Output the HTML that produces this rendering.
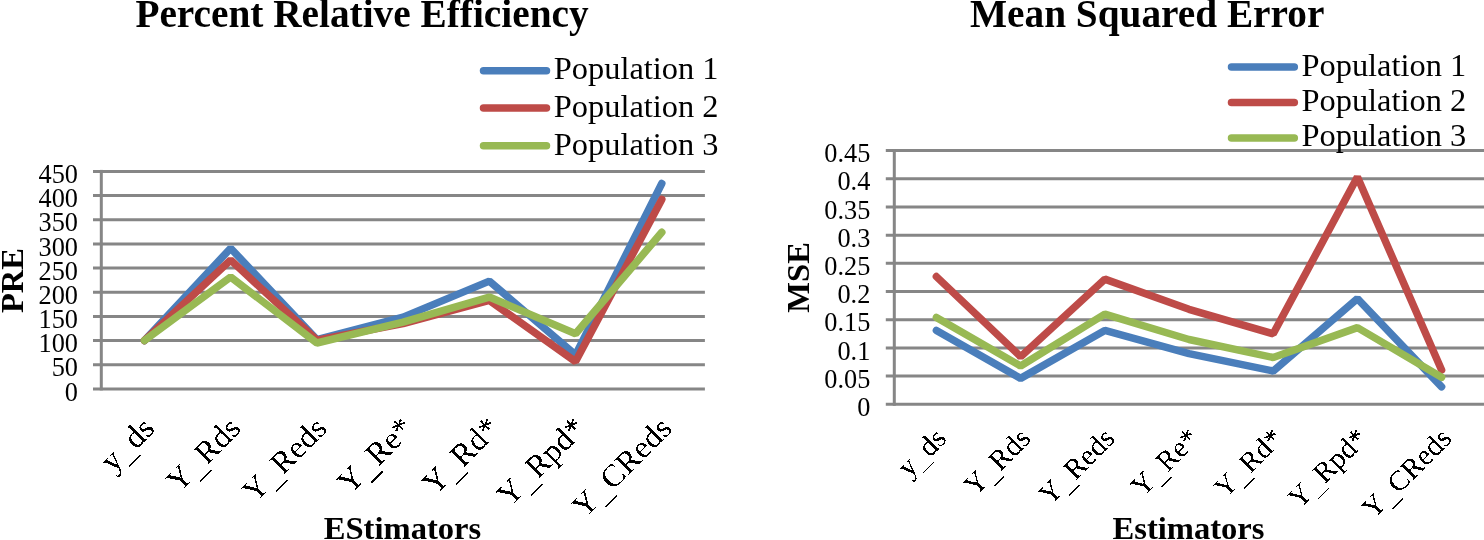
<!DOCTYPE html>
<html><head><meta charset="utf-8"><style>
html,body{margin:0;padding:0;background:#fff;width:1484px;height:540px;overflow:hidden}
svg{display:block;will-change:transform}
text{font-family:"Liberation Serif",serif;fill:#000}
.ti{font-size:39.3px;font-weight:bold}
.lg{font-size:32.4px}
.tk{font-size:26.3px}
.xl{font-size:32.4px}
.xr{font-size:29px}
.at{font-size:32.6px;font-weight:bold}
</style></head><body>
<svg width="1484" height="540" viewBox="0 0 1484 540">
<defs><filter id="bin" x="-10%" y="-10%" width="120%" height="120%"><feComponentTransfer><feFuncA type="discrete" tableValues="0 1"/></feComponentTransfer></filter></defs>
<text x="362" y="26.8" class="ti" text-anchor="middle">Percent Relative Efficiency</text>
<text x="1147.2" y="26.8" class="ti" text-anchor="middle">Mean Squared Error</text>
<line x1="93" y1="171.40" x2="704.9" y2="171.40" stroke="#868686" stroke-width="3"/>
<text x="78.0" y="183.10" class="tk" text-anchor="end">450</text>
<line x1="93" y1="195.57" x2="704.9" y2="195.57" stroke="#868686" stroke-width="3"/>
<text x="78.0" y="207.27" class="tk" text-anchor="end">400</text>
<line x1="93" y1="219.73" x2="704.9" y2="219.73" stroke="#868686" stroke-width="3"/>
<text x="78.0" y="231.43" class="tk" text-anchor="end">350</text>
<line x1="93" y1="243.90" x2="704.9" y2="243.90" stroke="#868686" stroke-width="3"/>
<text x="78.0" y="255.60" class="tk" text-anchor="end">300</text>
<line x1="93" y1="268.07" x2="704.9" y2="268.07" stroke="#868686" stroke-width="3"/>
<text x="78.0" y="279.77" class="tk" text-anchor="end">250</text>
<line x1="93" y1="292.23" x2="704.9" y2="292.23" stroke="#868686" stroke-width="3"/>
<text x="78.0" y="303.93" class="tk" text-anchor="end">200</text>
<line x1="93" y1="316.40" x2="704.9" y2="316.40" stroke="#868686" stroke-width="3"/>
<text x="78.0" y="328.10" class="tk" text-anchor="end">150</text>
<line x1="93" y1="340.57" x2="704.9" y2="340.57" stroke="#868686" stroke-width="3"/>
<text x="78.0" y="352.27" class="tk" text-anchor="end">100</text>
<line x1="93" y1="364.73" x2="704.9" y2="364.73" stroke="#868686" stroke-width="3"/>
<text x="78.0" y="376.43" class="tk" text-anchor="end">50</text>
<line x1="93" y1="388.90" x2="704.9" y2="388.90" stroke="#868686" stroke-width="3"/>
<text x="78.0" y="400.60" class="tk" text-anchor="end">0</text>
<line x1="101.3" y1="169.90" x2="101.3" y2="390.40" stroke="#868686" stroke-width="3"/>
<polyline points="144.41,340.57 230.64,248.25 316.87,339.60 403.10,317.12 489.33,281.12 575.56,354.82 661.79,183.48" fill="none" stroke="#4a7ebb" stroke-width="7.5" stroke-linejoin="bevel" stroke-linecap="round"/>
<polyline points="144.41,340.57 230.64,260.09 316.87,340.08 403.10,323.65 489.33,300.45 575.56,361.59 661.79,199.43" fill="none" stroke="#be4b48" stroke-width="7.5" stroke-linejoin="bevel" stroke-linecap="round"/>
<polyline points="144.41,340.57 230.64,277.01 316.87,342.98 403.10,322.20 489.33,297.07 575.56,333.80 661.79,232.30" fill="none" stroke="#98b954" stroke-width="7.5" stroke-linejoin="bevel" stroke-linecap="round"/>
<text x="156.71" y="430.50" class="xl" text-anchor="end" filter="url(#bin)" transform="rotate(-45 156.71 430.50)">y<tspan dy="2.5">_</tspan><tspan dy="-2.5">ds</tspan></text>
<text x="242.94" y="430.50" class="xl" text-anchor="end" filter="url(#bin)" transform="rotate(-45 242.94 430.50)">Y<tspan dy="2.5">_</tspan><tspan dy="-2.5">Rds</tspan></text>
<text x="329.17" y="430.50" class="xl" text-anchor="end" filter="url(#bin)" transform="rotate(-45 329.17 430.50)">Y<tspan dy="2.5">_</tspan><tspan dy="-2.5">Reds</tspan></text>
<text x="415.40" y="430.50" class="xl" text-anchor="end" filter="url(#bin)" transform="rotate(-45 415.40 430.50)">Y<tspan dy="2.5">_</tspan><tspan dy="-2.5">Re*</tspan></text>
<text x="501.63" y="430.50" class="xl" text-anchor="end" filter="url(#bin)" transform="rotate(-45 501.63 430.50)">Y<tspan dy="2.5">_</tspan><tspan dy="-2.5">Rd*</tspan></text>
<text x="587.86" y="430.50" class="xl" text-anchor="end" filter="url(#bin)" transform="rotate(-45 587.86 430.50)">Y<tspan dy="2.5">_</tspan><tspan dy="-2.5">Rpd*</tspan></text>
<text x="674.09" y="430.50" class="xl" text-anchor="end" filter="url(#bin)" transform="rotate(-45 674.09 430.50)">Y<tspan dy="2.5">_</tspan><tspan dy="-2.5">CReds</tspan></text>
<line x1="885.8" y1="150.60" x2="1484" y2="150.60" stroke="#868686" stroke-width="3"/>
<text x="870.3" y="162.30" class="tk" text-anchor="end">0.45</text>
<line x1="885.8" y1="178.79" x2="1484" y2="178.79" stroke="#868686" stroke-width="3"/>
<text x="870.3" y="190.49" class="tk" text-anchor="end">0.4</text>
<line x1="885.8" y1="206.98" x2="1484" y2="206.98" stroke="#868686" stroke-width="3"/>
<text x="870.3" y="218.68" class="tk" text-anchor="end">0.35</text>
<line x1="885.8" y1="235.17" x2="1484" y2="235.17" stroke="#868686" stroke-width="3"/>
<text x="870.3" y="246.87" class="tk" text-anchor="end">0.3</text>
<line x1="885.8" y1="263.36" x2="1484" y2="263.36" stroke="#868686" stroke-width="3"/>
<text x="870.3" y="275.06" class="tk" text-anchor="end">0.25</text>
<line x1="885.8" y1="291.54" x2="1484" y2="291.54" stroke="#868686" stroke-width="3"/>
<text x="870.3" y="303.24" class="tk" text-anchor="end">0.2</text>
<line x1="885.8" y1="319.73" x2="1484" y2="319.73" stroke="#868686" stroke-width="3"/>
<text x="870.3" y="331.43" class="tk" text-anchor="end">0.15</text>
<line x1="885.8" y1="347.92" x2="1484" y2="347.92" stroke="#868686" stroke-width="3"/>
<text x="870.3" y="359.62" class="tk" text-anchor="end">0.1</text>
<line x1="885.8" y1="376.11" x2="1484" y2="376.11" stroke="#868686" stroke-width="3"/>
<text x="870.3" y="387.81" class="tk" text-anchor="end">0.05</text>
<line x1="885.8" y1="404.30" x2="1484" y2="404.30" stroke="#868686" stroke-width="3"/>
<text x="870.3" y="416.00" class="tk" text-anchor="end">0</text>
<line x1="894.3" y1="149.10" x2="894.3" y2="405.80" stroke="#868686" stroke-width="3"/>
<polyline points="936.40,330.45 1020.60,378.37 1104.80,330.45 1189.00,353.56 1273.20,371.04 1357.40,298.59 1441.60,386.82" fill="none" stroke="#4a7ebb" stroke-width="7.5" stroke-linejoin="bevel" stroke-linecap="round"/>
<polyline points="936.40,276.60 1020.60,356.66 1104.80,279.14 1189.00,309.30 1273.20,333.83 1357.40,177.10 1441.60,370.08" fill="none" stroke="#be4b48" stroke-width="7.5" stroke-linejoin="bevel" stroke-linecap="round"/>
<polyline points="936.40,317.48 1020.60,365.96 1104.80,314.10 1189.00,339.47 1273.20,357.51 1357.40,327.63 1441.60,377.24" fill="none" stroke="#98b954" stroke-width="7.5" stroke-linejoin="bevel" stroke-linecap="round"/>
<text x="948.30" y="440.40" class="xr" text-anchor="end" filter="url(#bin)" transform="rotate(-45 948.30 440.40)">y<tspan dy="2.2">_</tspan><tspan dy="-2.2">ds</tspan></text>
<text x="1032.50" y="440.40" class="xr" text-anchor="end" filter="url(#bin)" transform="rotate(-45 1032.50 440.40)">Y<tspan dy="2.2">_</tspan><tspan dy="-2.2">Rds</tspan></text>
<text x="1116.70" y="440.40" class="xr" text-anchor="end" filter="url(#bin)" transform="rotate(-45 1116.70 440.40)">Y<tspan dy="2.2">_</tspan><tspan dy="-2.2">Reds</tspan></text>
<text x="1200.90" y="440.40" class="xr" text-anchor="end" filter="url(#bin)" transform="rotate(-45 1200.90 440.40)">Y<tspan dy="2.2">_</tspan><tspan dy="-2.2">Re*</tspan></text>
<text x="1285.10" y="440.40" class="xr" text-anchor="end" filter="url(#bin)" transform="rotate(-45 1285.10 440.40)">Y<tspan dy="2.2">_</tspan><tspan dy="-2.2">Rd*</tspan></text>
<text x="1369.30" y="440.40" class="xr" text-anchor="end" filter="url(#bin)" transform="rotate(-45 1369.30 440.40)">Y<tspan dy="2.2">_</tspan><tspan dy="-2.2">Rpd*</tspan></text>
<text x="1453.50" y="440.40" class="xr" text-anchor="end" filter="url(#bin)" transform="rotate(-45 1453.50 440.40)">Y<tspan dy="2.2">_</tspan><tspan dy="-2.2">CReds</tspan></text>
<line x1="483.5" y1="70.8" x2="546.5" y2="70.8" stroke="#4a7ebb" stroke-width="7.5" stroke-linecap="round"/>
<text x="553.8" y="78.7" class="lg">Population 1</text>
<line x1="483.5" y1="108" x2="546.5" y2="108" stroke="#be4b48" stroke-width="7.5" stroke-linecap="round"/>
<text x="553.8" y="116.9" class="lg">Population 2</text>
<line x1="483.5" y1="145.7" x2="546.5" y2="145.7" stroke="#98b954" stroke-width="7.5" stroke-linecap="round"/>
<text x="553.8" y="154.6" class="lg">Population 3</text>
<line x1="1231.5" y1="67" x2="1294.3" y2="67" stroke="#4a7ebb" stroke-width="7.5" stroke-linecap="round"/>
<text x="1301.5" y="75.9" class="lg">Population 1</text>
<line x1="1231.5" y1="102.5" x2="1294.3" y2="102.5" stroke="#be4b48" stroke-width="7.5" stroke-linecap="round"/>
<text x="1301.5" y="110.8" class="lg">Population 2</text>
<line x1="1231.5" y1="138" x2="1294.3" y2="138" stroke="#98b954" stroke-width="7.5" stroke-linecap="round"/>
<text x="1301.5" y="146.2" class="lg">Population 3</text>
<text x="402.5" y="538.8" class="at" text-anchor="middle">EStimators</text>
<text x="1188.5" y="538.8" class="at" text-anchor="middle">Estimators</text>
<text x="0" y="0" class="at" text-anchor="middle" transform="translate(22.5 280.5) rotate(-90)">PRE</text>
<text x="0" y="0" class="at" text-anchor="middle" transform="translate(809.3 277.4) rotate(-90)">MSE</text>
</svg>
</body></html>
